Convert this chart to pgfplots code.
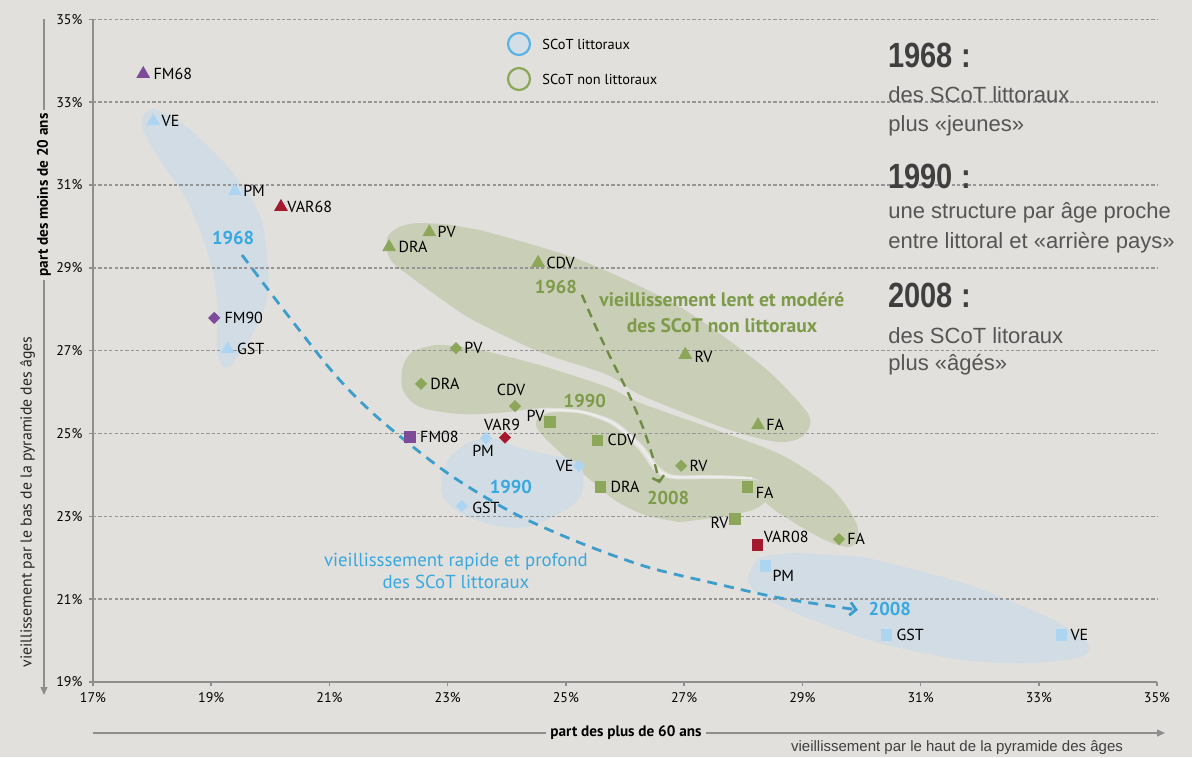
\documentclass[border=0pt]{standalone}
\usepackage{fontspec}
\setmainfont{PT Sans}
\newfontfamily\narrow[FakeStretch=0.83]{Liberation Sans}
\newfontfamily\arial{Liberation Sans}
\usepackage{pgfplots}
\pgfplotsset{compat=1.18}
\usetikzlibrary{arrows.meta}
\definecolor{bgc}{HTML}{E1E0DC}
\definecolor{blobb}{HTML}{D1DCE4}
\definecolor{blobg}{HTML}{C9CEB7}
\definecolor{gapc}{HTML}{ECECE8}
\definecolor{mblue}{HTML}{ADD5F2}
\definecolor{mgreen}{HTML}{8CA65A}
\definecolor{mpurple}{HTML}{7D4B98}
\definecolor{mred}{HTML}{A3192E}
\definecolor{dblue}{HTML}{3D9DCB}
\definecolor{tblue}{HTML}{38A8E0}
\definecolor{tgreen}{HTML}{7E9B49}
\definecolor{dgreen}{HTML}{6E8C42}
\definecolor{gridc}{HTML}{959595}
\definecolor{axisc}{HTML}{8E8E8E}
\definecolor{rtext}{HTML}{555555}
\definecolor{rbold}{HTML}{3F3F3F}
\definecolor{lgcirc}{HTML}{5AB4E6}
\definecolor{lgfillb}{HTML}{D3DEE6}
\definecolor{lgfillg}{HTML}{DCDDD3}
\tikzset{
  lbl/.style={font=\fontsize{8}{9.6}\selectfont, text=black, inner sep=0pt},
  gl/.style={draw=gridc, line width=0.75pt, dash pattern=on 1.6pt off 1.1pt},
}
\begin{document}
\begin{tikzpicture}[x=1pt,y=1pt]
\fill[bgc] (-46.5,-37.5) rectangle (549.5,341);
\begin{axis}[
  at={(0,0)}, anchor=south west,
  scale only axis, width=532pt, height=331.35pt,
  xmin=17, xmax=35, ymin=19, ymax=35,
  axis x line*=bottom, axis y line*=left,
  axis line style={draw=axisc, line width=0.9pt},
  xtick={17,19,...,35},
  xticklabels={17\%,19\%,21\%,23\%,25\%,27\%,29\%,31\%,33\%,35\%},
  ytick={19,21,...,35},
  yticklabels={19\%,21\%,23\%,25\%,27\%,29\%,31\%,33\%,35\%},
  tick align=outside, major tick length=1.8pt,
  tick style={draw=axisc, line width=0.8pt},
  ticklabel style={font=\fontsize{7}{8}\selectfont, text=black},
  clip=false,
]
% ---- groups (blobs)
\addplot[fill=blobb, draw=none, smooth, tension=0.5] coordinates {
 (18.93,29.43) (18.59,30.64) (18.13,31.60) (17.85,32.33) (17.83,32.64) (17.95,32.80)
 (18.08,32.81) (18.59,32.40) (19.37,31.29) (19.83,30.23) (19.96,29.02) (19.94,28.22)
 (19.71,27.43) (19.37,26.70) (19.20,26.61) (19.10,27.02) (19.10,28.22) (19.03,28.90)} -- cycle;
\addplot[fill=blobg, draw=none, smooth, tension=0.5] coordinates {
 (23.55,29.91) (25.24,29.19) (26.93,28.05) (28.34,26.61) (29.05,25.57) (29.13,25.20)
 (28.96,24.89) (28.62,24.79) (28.11,24.94) (27.49,25.23) (26.25,25.94) (25.70,26.42)
 (24.56,26.97) (23.43,27.74) (22.87,28.27) (22.31,28.85) (22.06,29.14) (21.97,29.43)
 (21.99,29.77) (22.19,29.99) (22.48,30.08) (23.00,30.05)} -- cycle;
\addplot[fill=blobg, draw=none, smooth, tension=0.5] coordinates {
 (23.55,27.02) (24.56,26.65) (25.70,26.12) (26.25,25.74) (27.49,25.11) (28.62,24.50)
 (29.47,23.71) (29.89,22.91) (29.94,22.43) (29.77,22.26) (29.38,22.43) (28.79,22.91)
 (28.37,23.35) (28.23,23.90) (27.49,24.00) (26.85,24.00) (26.59,24.19) (26.30,24.72)
 (25.83,25.30) (25.24,25.57) (24.61,25.62) (23.89,25.50) (23.21,25.47) (22.53,25.64)
 (22.24,26.05) (22.24,26.61) (22.40,26.97) (22.70,27.11) (22.87,27.14) (23.20,27.10)} -- cycle;
\addplot[fill=blobg, draw=none, smooth, tension=0.5] coordinates {
 (26.93,22.86) (26.34,23.03) (25.83,23.39) (25.32,24.00) (24.82,24.65) (24.53,25.08)
 (24.51,25.33) (24.73,25.50) (25.24,25.48) (25.78,25.20) (26.22,24.62) (26.51,24.07)
 (26.80,23.90) (27.49,23.90) (28.20,23.88) (28.42,23.64) (28.40,23.39) (28.15,23.15)
 (27.61,22.98)} -- cycle;
\addplot[draw=gapc, line width=1.1pt, smooth, tension=0.5] coordinates {
 (24.55,25.56) (25.24,25.53) (25.80,25.25) (26.26,24.68) (26.55,24.13) (26.82,23.95)
 (27.49,23.95) (28.15,23.92)};
\addplot[fill=blobb, draw=none, smooth, tension=0.5] coordinates {
 (23.60,24.89) (23.89,24.84) (24.17,24.67) (24.73,24.48) (25.12,24.36) (25.29,24.05)
 (25.24,23.47) (24.90,23.08) (24.34,22.74) (23.77,22.79) (23.21,23.08) (22.92,23.47)
 (22.90,23.95) (23.04,24.43) (23.33,24.77)} -- cycle;
\addplot[fill=blobb, draw=none, smooth, tension=0.5] coordinates {
 (30.03,22.02) (31.72,21.39) (33.14,20.57) (33.83,19.94) (33.70,19.60) (32.85,19.46)
 (31.72,19.53) (30.31,19.94) (29.18,20.50) (28.33,21.05) (28.08,21.46) (28.28,21.99)
 (28.91,22.12)} -- cycle;
% ---- grid lines
\addplot[gl] coordinates {(17,21) (35,21)};
\addplot[gl] coordinates {(17,23) (35,23)};
\addplot[gl] coordinates {(17,25) (35,25)};
\addplot[gl] coordinates {(17,27) (35,27)};
\addplot[gl] coordinates {(17,29) (35,29)};
\addplot[gl] coordinates {(17,31) (35,31)};
\addplot[gl] coordinates {(17,33) (35,33)};
\addplot[gl] coordinates {(17,35) (35,35)};
% ---- trajectories
\addplot[draw=dblue, line width=1.4pt, dash pattern=on 5pt off 3.6pt, smooth, tension=0.5,
  -{Straight Barb[length=3pt,width=6.5pt]}] coordinates {
 (19.52,29.31) (20.33,27.79) (21.13,26.36) (21.86,25.33) (22.99,24.05) (24.11,23.08)
 (25.24,22.36) (26.37,21.78) (27.49,21.39) (28.62,21.03) (29.94,20.74)};
\addplot[draw=dgreen, line width=1.2pt, dash pattern=on 4.5pt off 3.2pt, smooth, tension=0.5,
  -{Straight Barb[length=2.6pt,width=6pt]}] coordinates {
 (25.27,28.35) (25.53,27.50) (25.80,26.70) (26.03,26.05) (26.30,25.16) (26.47,24.43) (26.59,23.80)};
% ---- SCoT littoraux
\addplot[only marks, mark=triangle*, mark size=3.6pt, color=mblue] coordinates {(18.02,32.54) (19.40,30.85) (19.28,27.04)};
\addplot[only marks, mark=square*, mark size=1.95pt, mark options={rotate=45}, color=mblue] coordinates {(23.65,24.89) (25.22,24.22) (23.24,23.25)};
\addplot[only marks, mark=square*, mark size=2.6pt, color=mblue] coordinates {(28.37,21.80) (30.42,20.14) (33.38,20.14)};
% ---- FM
\addplot[only marks, mark=triangle*, mark size=3.6pt, color=mpurple] coordinates {(17.85,33.68)};
\addplot[only marks, mark=square*, mark size=1.95pt, mark options={rotate=45}, color=mpurple] coordinates {(19.05,27.79)};
\addplot[only marks, mark=square*, mark size=2.7pt, color=mpurple] coordinates {(22.36,24.92)};
% ---- VAR
\addplot[only marks, mark=triangle*, mark size=3.6pt, color=mred] coordinates {(20.18,30.47)};
\addplot[only marks, mark=square*, mark size=1.95pt, mark options={rotate=45}, color=mred] coordinates {(23.97,24.90)};
\addplot[only marks, mark=square*, mark size=2.7pt, color=mred] coordinates {(28.24,22.31)};
% ---- SCoT non littoraux
\addplot[only marks, mark=triangle*, mark size=3.6pt, color=mgreen] coordinates {(22.01,29.50) (22.69,29.86) (24.53,29.12) (27.02,26.90) (28.25,25.20)};
\addplot[only marks, mark=square*, mark size=1.95pt, mark options={rotate=45}, color=mgreen] coordinates {(23.14,27.06) (22.55,26.20) (24.14,25.66) (26.95,24.22) (29.62,22.45)};
\addplot[only marks, mark=square*, mark size=2.6pt, color=mgreen] coordinates {(24.73,25.28) (25.53,24.84) (25.58,23.71) (28.07,23.71) (27.86,22.94)};
% ---- point labels
\node[lbl, anchor=west, xshift=5pt] at (axis cs:17.85,33.68) {FM68};
\node[lbl, anchor=west, xshift=4pt] at (axis cs:18.02,32.54) {VE};
\node[lbl, anchor=west, xshift=4pt] at (axis cs:19.40,30.85) {PM};
\node[lbl, anchor=west, xshift=4.5pt] at (axis cs:19.28,27.04) {GST};
\node[lbl, anchor=west, xshift=5pt] at (axis cs:19.05,27.79) {FM90};
\node[lbl, anchor=west, xshift=3pt] at (axis cs:20.18,30.47) {VAR68};
\node[lbl, anchor=west, xshift=4.5pt] at (axis cs:22.01,29.50) {DRA};
\node[lbl, anchor=west, xshift=4pt] at (axis cs:22.69,29.86) {PV};
\node[lbl, anchor=west, xshift=4pt] at (axis cs:24.53,29.12) {CDV};
\node[lbl, anchor=west, xshift=4.5pt, yshift=-1pt] at (axis cs:27.02,26.90) {RV};
\node[lbl, anchor=west, xshift=4pt] at (axis cs:28.25,25.20) {FA};
\node[lbl, anchor=west, xshift=4pt] at (axis cs:23.14,27.06) {PV};
\node[lbl, anchor=west, xshift=4.5pt] at (axis cs:22.55,26.20) {DRA};
\node[lbl, anchor=center, xshift=-2pt, yshift=8pt] at (axis cs:24.14,25.66) {CDV};
\node[lbl, anchor=west, xshift=4pt] at (axis cs:26.95,24.22) {RV};
\node[lbl, anchor=west, xshift=4pt] at (axis cs:29.62,22.45) {FA};
\node[lbl, anchor=east, xshift=-2.5pt, yshift=3pt] at (axis cs:24.73,25.28) {PV};
\node[lbl, anchor=west, xshift=5pt] at (axis cs:25.53,24.84) {CDV};
\node[lbl, anchor=west, xshift=5pt] at (axis cs:25.58,23.71) {DRA};
\node[lbl, anchor=west, xshift=4pt, yshift=-3pt] at (axis cs:28.07,23.71) {FA};
\node[lbl, anchor=east, xshift=-3pt, yshift=-2pt] at (axis cs:27.86,22.94) {RV};
\node[lbl, anchor=west, xshift=5pt] at (axis cs:22.36,24.92) {FM08};
\node[lbl, anchor=center, xshift=-1.5pt, yshift=6.5pt] at (axis cs:23.97,24.90) {VAR9};
\node[lbl, anchor=west, xshift=3pt, yshift=4pt] at (axis cs:28.24,22.31) {VAR08};
\node[lbl, anchor=center, xshift=-1.5pt, yshift=-6.5pt] at (axis cs:23.65,24.89) {PM};
\node[lbl, anchor=east, xshift=-2.5pt] at (axis cs:25.22,24.22) {VE};
\node[lbl, anchor=west, xshift=5pt, yshift=-1pt] at (axis cs:23.24,23.25) {GST};
\node[lbl, anchor=west, xshift=3.5pt, yshift=-5pt] at (axis cs:28.37,21.80) {PM};
\node[lbl, anchor=west, xshift=5pt] at (axis cs:30.42,20.14) {GST};
\node[lbl, anchor=west, xshift=4.5pt] at (axis cs:33.38,20.14) {VE};
% ---- annotations
\node[font=\fontsize{9.3}{11}\selectfont\bfseries, text=tblue, inner sep=0pt] at (axis cs:19.37,29.72) {1968};
\node[font=\fontsize{9.3}{11}\selectfont\bfseries, text=tblue, inner sep=0pt] at (axis cs:24.07,23.71) {1990};
\node[font=\fontsize{9.3}{11}\selectfont\bfseries, text=tblue, inner sep=0pt] at (axis cs:30.48,20.76) {2008};
\node[font=\fontsize{9.4}{11}\selectfont, text=tblue, inner sep=0pt, align=center] at (axis cs:23.14,21.69) {vieillisssement rapide et profond\\des SCoT littoraux};
\node[font=\fontsize{9.3}{11}\selectfont\bfseries, text=tgreen, inner sep=0pt] at (axis cs:24.83,28.54) {1968};
\node[font=\fontsize{9.3}{11}\selectfont\bfseries, text=tgreen, inner sep=0pt] at (axis cs:25.32,25.78) {1990};
\node[font=\fontsize{9.3}{11}\selectfont\bfseries, text=tgreen, inner sep=0pt] at (axis cs:26.73,23.45) {2008};
\node[font=\fontsize{9.8}{13}\selectfont\bfseries, text=tgreen, inner sep=0pt, align=center] at (axis cs:27.64,27.91) {vieillissement lent et modéré\\des SCoT non littoraux};
\end{axis}
% ---- axis titles
\draw[axisc, line width=0.7pt, -{Triangle[length=4pt,width=3.5pt]}] (-24.5,331.5) -- (-24.5,-6.5);
\node[fill=bgc, rotate=90, inner sep=2pt, font=\fontsize{7.6}{9}\selectfont\bfseries, text=black] at (-24.5,243.5) {part des moins de 20 ans};
\node[rotate=90, inner sep=0pt, font=\fontsize{7.9}{9}\selectfont, text=black!85] at (-32.75,90) {vieillissement par le bas de la pyramide des âges};
\draw[axisc, line width=0.7pt, -{Triangle[length=4pt,width=3.5pt]}] (0,-25.5) -- (536,-25.5);
\node[fill=bgc, inner sep=2pt, font=\fontsize{7.6}{9}\selectfont\bfseries, text=black] at (266.5,-25.5) {part des plus de 60 ans};
\node[inner sep=0pt, font=\arial\fontsize{7.5}{9}\selectfont, text=black!75] at (432,-33) {vieillissement par le haut de la pyramide des âges};
% ---- legend
\draw[lgcirc, fill=lgfillb, line width=1.1pt] (213,319) circle (5.5pt);
\draw[mgreen, fill=lgfillg, line width=1.1pt] (213,301.5) circle (5.5pt);
\node[anchor=west, inner sep=0pt, font=\fontsize{7.2}{9}\selectfont] at (224.5,319) {SCoT littoraux};
\node[anchor=west, inner sep=0pt, font=\fontsize{7.2}{9}\selectfont] at (224.5,301.5) {SCoT non littoraux};
% ---- right text
\node[anchor=base west, inner sep=0pt, text=rbold, font=\narrow\bfseries\fontsize{17.5}{20}\selectfont] at (397.5,307.5) {1968 :};
\node[anchor=base west, inner sep=0pt, text=rtext, font=\arial\fontsize{11}{13}\selectfont] at (397.5,290) {des SCoT littoraux};
\node[anchor=base west, inner sep=0pt, text=rtext, font=\arial\fontsize{11}{13}\selectfont] at (397.5,275.5) {plus «jeunes»};
\node[anchor=base west, inner sep=0pt, text=rbold, font=\narrow\bfseries\fontsize{17.5}{20}\selectfont] at (397.5,247) {1990 :};
\node[anchor=base west, inner sep=0pt, text=rtext, font=\arial\fontsize{11}{13}\selectfont] at (397.5,232) {une structure par âge proche};
\node[anchor=base west, inner sep=0pt, text=rtext, font=\arial\fontsize{11}{13}\selectfont] at (397.5,217) {entre littoral et «arrière pays»};
\node[anchor=base west, inner sep=0pt, text=rbold, font=\narrow\bfseries\fontsize{17.5}{20}\selectfont] at (397.5,187.5) {2008 :};
\node[anchor=base west, inner sep=0pt, text=rtext, font=\arial\fontsize{11}{13}\selectfont] at (397.5,169.5) {des SCoT litoraux};
\node[anchor=base west, inner sep=0pt, text=rtext, font=\arial\fontsize{11}{13}\selectfont] at (397.5,156) {plus «âgés»};
\pgfresetboundingbox
\path[use as bounding box] (-46.5,-37.5) rectangle (549.5,341);
\end{tikzpicture}
\end{document}
